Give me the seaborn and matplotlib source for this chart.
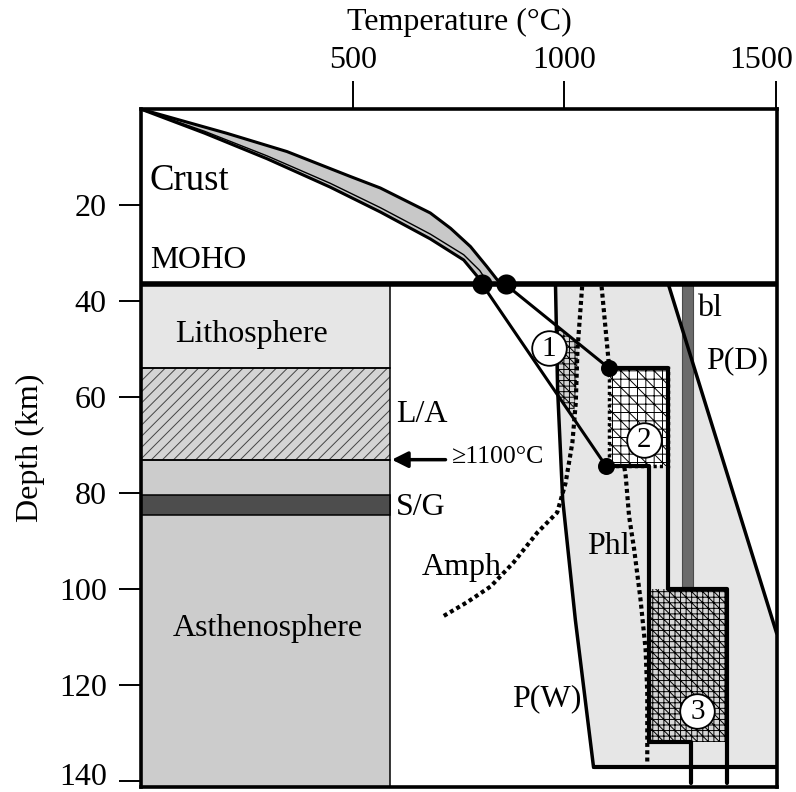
import numpy as np
import matplotlib
matplotlib.use("Agg")
import matplotlib.pyplot as plt
import matplotlib.transforms as mtransforms
import seaborn as sns
from matplotlib.patches import Polygon, Rectangle

# ---------------------------------------------------------------------------
# Data: temperature in °C, depth in km
# ---------------------------------------------------------------------------
moho_depth = 36.5
bottom_depth = 141.2

# crustal geotherm envelope (hot edge, cold edge and an inner curve)
crust_hot_T = [0, 202, 344, 494, 565, 683, 731, 778, 817, 841, 861]
crust_hot_D = [0, 5.0, 8.8, 14.0, 16.4, 21.6, 24.8, 28.6, 32.8, 35.5, 36.5]
crust_cold_T = [0, 150, 297, 446, 565, 683, 762, 794, 806]
crust_cold_D = [0, 5.0, 10.3, 16.2, 21.4, 27.0, 31.4, 34.8, 36.5]
crust_mid_T = [0, 150, 297, 446, 565, 683, 762, 800, 818]
crust_mid_D = [0, 4.6, 9.7, 15.4, 20.5, 26.0, 30.3, 33.6, 36.0]

# mantle geotherms below the Moho
moho_points_T = [806, 861]
cold_geo_T = [806, 1099]
cold_geo_D = [36.5, 74.4]
hot_geo_T = [861, 1105]
hot_geo_D = [36.5, 53.9]
cold_path_T = [1099, 1200, 1200, 1300, 1300]
cold_path_D = [74.4, 74.4, 131.9, 131.9, 140.4]
hot_path_T = [1105, 1244, 1244, 1384, 1384]
hot_path_D = [53.9, 53.9, 100.0, 100.0, 140.4]

# xenolith equilibration fields
field1_T = [981, 1033, 1030, 1022, 983]
field1_D = [45.0, 48.7, 56.0, 64.4, 59.4]
field2_T = [1105, 1244]
field2_D = [53.9, 74.4]
field3_T = [1200, 1384]
field3_D = [100.0, 131.9]
field_labels = ["1", "2", "3"]
field_label_T = [962.6, 1188, 1314.6]
field_label_D = [49.8, 68.8, 125.3]

# peridotite solidus brackets P(W) and P(D)
pw_T = [979, 984, 996, 1026, 1069]
pw_D = [36.5, 58.4, 81.3, 106.4, 137.1]
pd_T = [1246, 1502]
pd_D = [36.5, 109.2]

# amphibole and phlogopite stability limits
amph_T = [1042, 1031, 1027, 1019, 1003, 983, 936, 880, 826, 770, 714]
amph_D = [36.9, 50.1, 61.1, 69.4, 77.8, 84.0, 88.2, 94.4, 99.4, 102.7, 105.6]
phl_T = [1088, 1105, 1125, 1145, 1153, 1165, 1180, 1192, 1196, 1196]
phl_D = [36.9, 52.9, 65.0, 76.4, 84.8, 91.7, 102.1, 112.5, 121.5, 136.0]

# "bl" bar
bl_T = [1278, 1303]
bl_D = [36.5, 99.5]

# lithosphere / asthenosphere column
column_T = [0, 587]
lith_D = [36.5, 53.8]
la_D = [53.8, 73.1]
asth_D = [73.1, bottom_depth]
sg_D = [80.4, 84.6]
arrow_T = [719, 592]
arrow_D = 73.0

temp_ticks = [500, 1000, 1500]
depth_ticks = [20, 40, 60, 80, 100, 120, 140]

# ---------------------------------------------------------------------------
sns.set_theme(style="white")
plt.rcParams["font.family"] = ["Liberation Serif", "DejaVu Serif"]
plt.rcParams["hatch.linewidth"] = 0.7
plt.rcParams["text.color"] = "black"
plt.rcParams["axes.labelcolor"] = "black"

fig = plt.figure(figsize=(7.96, 7.92), dpi=100)
ax = fig.add_axes([141.4 / 796, 1 - 787 / 792, (776.7 - 141.4) / 796, (787 - 109.3) / 792])

FINE_GRID = "+++\\\\\\"
COARSE_GRID = "++\\\\"


def trace(T, D, **kw):
    sns.lineplot(x=T, y=D, sort=False, estimator=None, ax=ax, legend=False, **kw)


def band(T, D, face, hatch=None, hatch_color="black", z=1, border=True):
    x0, x1 = T
    y0, y1 = D
    ax.add_patch(Rectangle((x0, y0), x1 - x0, y1 - y0, facecolor=face,
                           edgecolor=hatch_color, lw=0, hatch=hatch, zorder=z))
    if border:
        ax.add_patch(Rectangle((x0, y0), x1 - x0, y1 - y0, fill=False,
                               edgecolor="black", lw=1.1, zorder=z + 0.1))


# left column
band(column_T, lith_D, "#e6e6e6")
band(column_T, la_D, "#d4d4d4", hatch="///", hatch_color="#444444")
band(column_T, asth_D, "#cccccc")
band(column_T, sg_D, "#4d4d4d", z=1.5)

# grey field between the solidus brackets
grey_T = pw_T + [1502, 1502] + [pd_T[0]]
grey_D = pw_D + [137.1, pd_D[1]] + [pd_D[0]]
ax.add_patch(Polygon(np.column_stack([grey_T, grey_D]), closed=True,
                     facecolor="#e6e6e6", edgecolor="none", zorder=0.8))

# crustal geotherm envelope
env = np.column_stack([crust_hot_T + crust_cold_T[::-1], crust_hot_D + crust_cold_D[::-1]])
ax.add_patch(Polygon(env, closed=True, facecolor="#c8c8c8", edgecolor="none", zorder=1))
trace(crust_hot_T, crust_hot_D, color="black", lw=2.2, zorder=3)
trace(crust_cold_T, crust_cold_D, color="black", lw=2.2, zorder=3)
trace(crust_mid_T, crust_mid_D, color="black", lw=1.0, zorder=3)

# equilibration fields
ax.add_patch(Polygon(np.column_stack([field1_T, field1_D]), closed=True,
                     facecolor="#d4d4d4", edgecolor="black", lw=0, hatch=FINE_GRID, zorder=2))
band(field3_T, field3_D, "#d6d6d6", hatch=FINE_GRID, z=2, border=False)

# bl bar
ax.add_patch(Rectangle((bl_T[0], bl_D[0]), bl_T[1] - bl_T[0], bl_D[1] - bl_D[0],
                       facecolor="#6b6b6b", edgecolor="#4a4a4a", lw=0.8, zorder=2.5))

# stability limits (dotted)
dot_style = dict(color="black", lw=3.0, linestyle=(0, (0.95, 0.8)),
                 dash_capstyle="butt", zorder=2.6)
trace(amph_T, amph_D, **dot_style)
trace(phl_T, phl_D, **dot_style)

# field 2 sits over the phlogopite limit, with a dotted rim
ax.add_patch(Rectangle((field2_T[0], field2_D[0]), field2_T[1] - field2_T[0],
                       field2_D[1] - field2_D[0], facecolor="white", edgecolor="black",
                       lw=0, hatch=COARSE_GRID, zorder=2.7))
ax.add_patch(Rectangle((field2_T[0], field2_D[0]), field2_T[1] - field2_T[0],
                       field2_D[1] - field2_D[0], fill=False, edgecolor="black",
                       lw=2.5, linestyle=(0, (0.9, 0.9)), zorder=2.8))

# solidus brackets
trace(pw_T, pw_D, color="black", lw=2.5, zorder=3)
trace(pd_T, pd_D, color="black", lw=2.5, zorder=3)
trace([pw_T[-1], 1502], [137.1, 137.1], color="black", lw=3.0, zorder=3)

# mantle geotherms
trace(cold_geo_T, cold_geo_D, color="black", lw=2.2, zorder=3)
trace(hot_geo_T, hot_geo_D, color="black", lw=2.2, zorder=3)
trace(cold_path_T, cold_path_D, color="black", lw=3.0, zorder=3.2)
trace(hot_path_T, hot_path_D, color="black", lw=3.0, zorder=3.2)

# Moho
ax.axhline(moho_depth, color="black", lw=4.0, zorder=4)

# points on the geotherms
sns.scatterplot(x=moho_points_T, y=[moho_depth, moho_depth], s=210, color="black",
                edgecolor="black", linewidth=0, ax=ax, legend=False, zorder=5)
sns.scatterplot(x=[cold_geo_T[1], hot_geo_T[1]], y=[cold_geo_D[1], hot_geo_D[1]], s=150,
                color="black", edgecolor="black", linewidth=0, ax=ax, legend=False, zorder=5)

# numbered field markers
sns.scatterplot(x=field_label_T, y=field_label_D, s=620, color="white", edgecolor="black",
                linewidth=1.3, ax=ax, legend=False, zorder=5)
for lab, t, d in zip(field_labels, field_label_T, field_label_D):
    ax.text(t, d + 0.2, lab, fontsize=21, ha="center", va="center", zorder=6)

# arrow to the lithosphere-asthenosphere boundary
ax.annotate("", xy=(arrow_T[1], arrow_D), xytext=(arrow_T[0], arrow_D),
            arrowprops=dict(arrowstyle="-|>", lw=2.5, color="black", mutation_scale=24,
                            shrinkA=0, shrinkB=0), zorder=6)

# annotations
ax.text(18, 16.8, "Crust", fontsize=26.5, ha="left", va="baseline", zorder=6)
ax.text(20, 33.1, "MOHO", fontsize=22.8, ha="left", va="baseline", zorder=6)
ax.text(261, 48.4, "Lithosphere", fontsize=23, ha="center", va="baseline", zorder=6)
ax.text(300, 109.7, "Asthenosphere", fontsize=23, ha="center", va="baseline", zorder=6)
ax.text(602, 65.2, "L/A", fontsize=23, ha="left", va="baseline", zorder=6)
ax.text(602, 84.5, "S/G", fontsize=23, ha="left", va="baseline", zorder=6)
ax.text(734, 73.7, "≥1100°C", fontsize=18.6, ha="left", va="baseline", zorder=6)
ax.text(663, 97.1, "Amph", fontsize=23, ha="left", va="baseline", zorder=6)
ax.text(1054, 92.7, "Phl", fontsize=23, ha="left", va="baseline", zorder=6)
ax.text(876, 124.3, "P(W)", fontsize=23, ha="left", va="baseline", zorder=6)
ax.text(1313, 43.0, "bl", fontsize=23, ha="left", va="baseline", zorder=6)
ax.text(1334, 53.9, "P(D)", fontsize=23, ha="left", va="baseline", zorder=6)

# axes
ax.set_xlim(0, 1502)
ax.set_ylim(bottom_depth, 0)
ax.set_xticks(temp_ticks)
ax.set_yticks(depth_ticks)
ax.xaxis.tick_top()
ax.xaxis.set_label_position("top")
ax.tick_params(axis="x", top=True, bottom=False, labeltop=True, labelbottom=False,
               length=20, width=1.4, direction="out", pad=4.5, labelsize=23,
               color="black", labelcolor="black")
ax.tick_params(axis="y", left=True, right=False, length=16, width=1.4, direction="out",
               pad=9, labelsize=23, color="black", labelcolor="black")
ax.set_xlabel("Temperature (°C)", fontsize=23, labelpad=12)
ax.set_ylabel("Depth (km)", fontsize=23, labelpad=10)
for side in ax.spines.values():
    side.set_visible(True)
    side.set_color("black")
    side.set_linewidth(2.6)
    side.set_zorder(7)
ax.grid(False)

# keep the outermost tick labels inside the figure
last_x = ax.xaxis.get_major_ticks()[-1].label2
last_x.set_transform(last_x.get_transform()
                     + mtransforms.ScaledTranslation(-0.15, 0, fig.dpi_scale_trans))
last_y = ax.yaxis.get_major_ticks()[-1].label1
last_y.set_transform(last_y.get_transform()
                     + mtransforms.ScaledTranslation(0, 0.07, fig.dpi_scale_trans))

fig.savefig("out.png", dpi=100)
